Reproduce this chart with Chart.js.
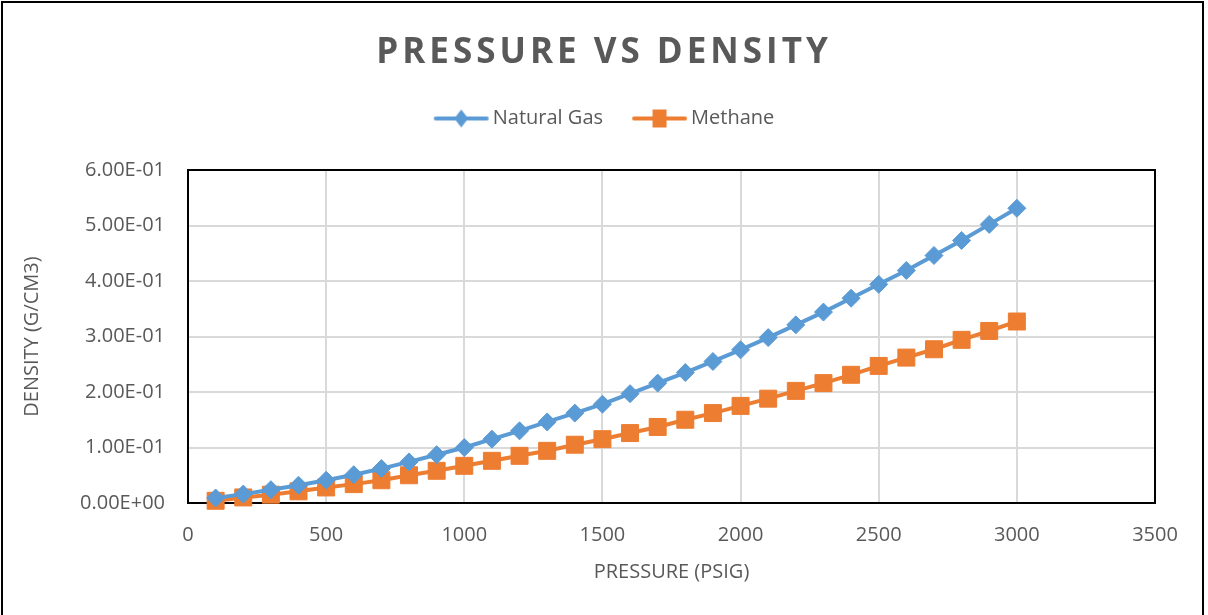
<!DOCTYPE html>
<html>
<head>
<meta charset="utf-8">
<script src="https://cdn.jsdelivr.net/npm/chart.js@4/dist/chart.umd.min.js"></script>
<style>
  html, body { margin: 0; padding: 0; background: #fff; }
  #wrap { width: 1208px; height: 615px; position: relative; }
</style>
</head>
<body>
<div id="wrap"><canvas id="c" width="1208" height="615"></canvas></div>
<script>
// ---- Data ----
const pressure = [100, 200, 300, 400, 500, 600, 700, 800, 900, 1000,
                  1100, 1200, 1300, 1400, 1500, 1600, 1700, 1800, 1900, 2000,
                  2100, 2200, 2300, 2400, 2500, 2600, 2700, 2800, 2900, 3000];
const naturalGas = [0.009, 0.016, 0.024, 0.032, 0.041, 0.051, 0.062, 0.074, 0.087, 0.100,
                    0.115, 0.130, 0.146, 0.162, 0.178, 0.197, 0.216, 0.235, 0.255, 0.276,
                    0.298, 0.321, 0.344, 0.369, 0.394, 0.419, 0.446, 0.473, 0.502, 0.531];
const methane = [0.004, 0.010, 0.015, 0.021, 0.028, 0.034, 0.041, 0.050, 0.058, 0.067,
                 0.076, 0.085, 0.094, 0.105, 0.115, 0.126, 0.137, 0.150, 0.162, 0.175,
                 0.188, 0.202, 0.216, 0.231, 0.247, 0.262, 0.277, 0.294, 0.310, 0.327];
const seriesNames = ['Natural Gas', 'Methane'];
const chartTitle = 'PRESSURE VS DENSITY';
const xTitle = 'PRESSURE (PSIG)';
const yTitle = 'DENSITY (G/CM3)';
const xTickStep = 500, xMax = 3500;
const yTickStep = 0.1, yMax = 0.6;

const BLUE = '#5b9bd5';
const ORANGE = '#ed7d31';
const GRAY = '#595959';
const FONT = "'Open Sans', sans-serif";

function sci(v) {
  if (Math.abs(v) < 1e-12) return '0.00E+00';
  let e = Math.floor(Math.log10(Math.abs(v)) + 1e-9);
  let m = v / Math.pow(10, e);
  if (Math.round(m * 100) / 100 >= 10) { m /= 10; e += 1; }
  const sign = e < 0 ? '-' : '+';
  const ea = Math.abs(e);
  return m.toFixed(2) + 'E' + sign + (ea < 10 ? '0' + ea : '' + ea);
}

function legendIcon(color, shape) {
  const w = 63, h = 22;
  const cv = document.createElement('canvas');
  cv.width = w; cv.height = h;
  const g = cv.getContext('2d');
  g.strokeStyle = color; g.lineWidth = 4; g.lineCap = 'round';
  g.beginPath(); g.moveTo(9, h / 2); g.lineTo(60, h / 2); g.stroke();
  g.fillStyle = color;
  const cx = 34.5, cy = h / 2;
  if (shape === 'diamond') {
    g.beginPath(); g.moveTo(cx, cy - 9); g.lineTo(cx + 7, cy); g.lineTo(cx, cy + 9); g.lineTo(cx - 7, cy); g.closePath(); g.fill();
  } else {
    g.fillRect(cx - 7, cy - 9, 14, 18);
  }
  return cv;
}
const icons = [legendIcon(BLUE, 'diamond'), legendIcon(ORANGE, 'square')];

const frames = {
  id: 'frames',
  beforeDatasetsDraw(chart) {
    const { ctx, chartArea: a } = chart;
    ctx.save();
    ctx.strokeStyle = '#000';
    ctx.lineWidth = 2;
    ctx.strokeRect(a.left, a.top, a.right - a.left, a.bottom - a.top);
    ctx.restore();
  },
  afterDraw(chart) {
    const ctx = chart.ctx;
    ctx.save();
    ctx.strokeStyle = '#000';
    ctx.lineWidth = 2;
    ctx.strokeRect(2, 2, 1201, chart.height + 10);
    ctx.restore();
  }
};

const tweaks = {
  id: 'tweaks',
  beforeLayout(chart) {
    const lg = chart.legend;
    if (lg && !lg._tweaked) {
      const f = lg.fit.bind(lg);
      lg.fit = function () { f(); this.height += 31.5; };
      lg._tweaked = true;
    }
  },
  beforeDraw(chart) {
    const t = chart.titleBlock;
    if (t && !t._spaced) {
      const orig = t.draw.bind(t);
      t.draw = function () {
        chart.ctx.save();
        chart.ctx.letterSpacing = '4px';
        orig();
        chart.ctx.restore();
      };
      t._spaced = true;
    }
  }
};

new Chart(document.getElementById('c'), {
  type: 'line',
  data: {
    datasets: [
      {
        label: seriesNames[0],
        data: pressure.map((p, i) => ({ x: p, y: naturalGas[i] })),
        borderColor: BLUE, backgroundColor: BLUE,
        borderWidth: 4, pointStyle: 'rectRot', pointRadius: 9,
        pointBorderWidth: 1, pointBorderColor: BLUE, pointBackgroundColor: BLUE,
        tension: 0, clip: false
      },
      {
        label: seriesNames[1],
        data: pressure.map((p, i) => ({ x: p, y: methane[i] })),
        borderColor: ORANGE, backgroundColor: ORANGE,
        borderWidth: 4, pointStyle: 'rect', pointRadius: 12,
        pointBorderWidth: 1, pointBorderColor: ORANGE, pointBackgroundColor: ORANGE,
        tension: 0, clip: false
      }
    ]
  },
  options: {
    responsive: false,
    animation: false,
    events: [],
    layout: { padding: { left: 0, right: 0, top: 0, bottom: 15 } },
    plugins: {
      title: {
        display: true, text: chartTitle, color: GRAY,
        font: { family: FONT, size: 35, weight: 'bold' },
        padding: { top: 32.5, bottom: 5 }
      },
      legend: {
        display: true, position: 'top',
        labels: {
          color: GRAY, font: { family: FONT, size: 20 },
          usePointStyle: true, pointStyleWidth: 49, padding: 29,
          generateLabels(chart) {
            return chart.data.datasets.map((d, i) => ({
              text: d.label, fillStyle: d.borderColor, strokeStyle: d.borderColor,
              pointStyle: icons[i], lineWidth: 0, hidden: false, datasetIndex: i,
              fontColor: GRAY
            }));
          }
        }
      },
      tooltip: { enabled: false }
    },
    scales: {
      x: {
        type: 'linear', min: 0, max: xMax,
        ticks: { stepSize: xTickStep, color: GRAY, font: { family: FONT, size: 20 }, padding: 20, maxRotation: 0,
                 callback: v => String(v) },
        grid: { color: '#d9d9d9', lineWidth: 2, drawTicks: false },
        border: { display: false },
        title: { display: true, text: xTitle, color: GRAY, font: { family: FONT, size: 20 }, padding: { top: 10, bottom: 16 } },
        afterFit(scale) { scale.height = 97; }
      },
      y: {
        type: 'linear', min: 0, max: yMax,
        ticks: { stepSize: yTickStep, color: GRAY, font: { family: FONT, size: 20 }, padding: 23, callback: v => sci(v) },
        grid: { color: '#d9d9d9', lineWidth: 2, drawTicks: false },
        border: { display: false },
        title: { display: true, text: yTitle, color: GRAY, font: { family: FONT, size: 20 }, padding: { top: 20, bottom: 0 } },
        afterFit(scale) { scale.width = 188; }
      },
      yRight: {
        type: 'linear', position: 'right', display: true, min: 0, max: yMax,
        ticks: { display: false },
        grid: { drawOnChartArea: false, drawTicks: false, display: false },
        border: { display: false },
        afterFit(scale) { scale.width = 53; }
      }
    }
  },
  plugins: [frames, tweaks]
});
</script>
</body>
</html>
